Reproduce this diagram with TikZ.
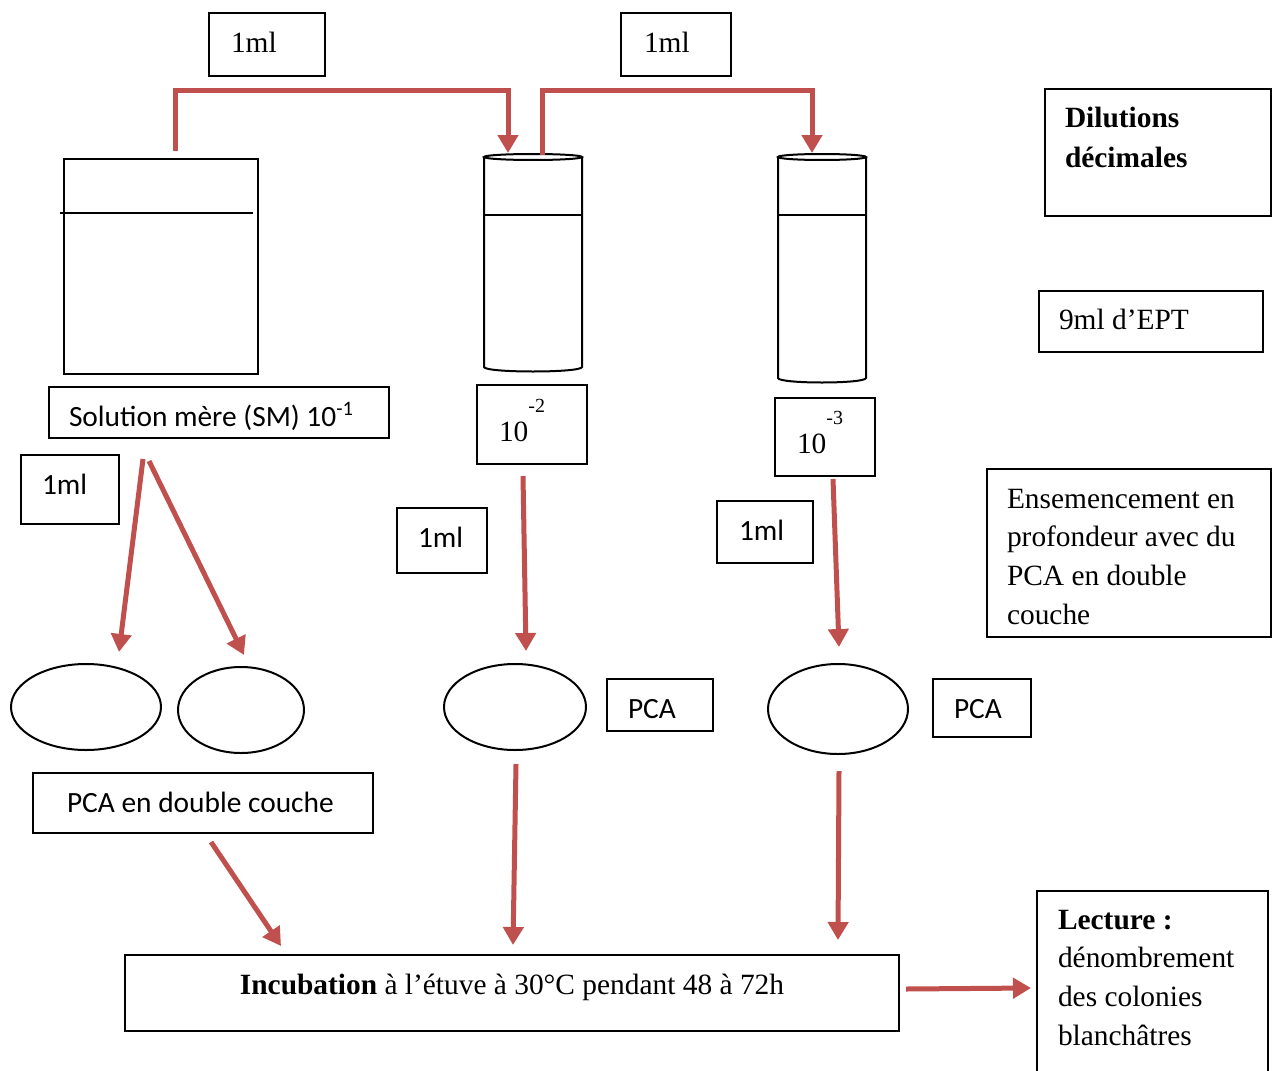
\documentclass[tikz,border=0pt]{standalone}
\usepackage{fontspec}
\setmainfont{Liberation Serif}
\newfontfamily\calibrifont{Carlito}
\usetikzlibrary{arrows.meta,shapes.geometric}
\definecolor{flowred}{RGB}{192,80,77}

\begin{document}
\begin{tikzpicture}[x=0.5pt, y=-0.5pt,
  font=\fontsize{14.7pt}{19.4pt}\selectfont,
  cal/.style={font=\calibrifont\fontsize{14.7pt}{19.4pt}\selectfont},
  box/.style n args={4}{draw, line width=1pt, anchor=north west, align=flush left,
    execute at begin node={\spaceskip=0pt\xspaceskip=0pt\relax},
    inner ysep=0pt, text width=#1, inner xsep=#2, text height=#3, text depth=#4},
  vessel/.style={draw, line width=1pt, anchor=north west, inner sep=0pt},
  dish/.style={ellipse, draw, line width=1pt, inner sep=0pt},
  tube/.style={line width=1pt},
  flow/.style={draw=flowred, line width=2.5pt, -{Triangle[width=10pt,length=9pt]}, fill=none}]
  \useasboundingbox (0,0) rectangle (1278,1070);

  % Volumes transferred
  \node[box={36pt}{11pt}{20pt}{11.5pt}] (ml1) at (208,12) {1ml};
  \node[box={32pt}{11.5pt}{20pt}{11.5pt}] (ml2) at (620,12) {1ml};

  % Legend on the right
  \node[box={93pt}{10pt}{19pt}{44.5pt}] (dil) at (1044,88) {\textbf{Dilutions}\\[0.6pt]\textbf{décimales}};
  \node[box={92pt}{10pt}{19pt}{11.5pt}] (ept) at (1038,290) {9ml d’EPT};
  \node[box={122pt}{10pt}{19.5pt}{64.5pt}] (ens) at (986,468) {Ensemencement en\\profondeur avec du\\PCA en double\\couche};

  % Mother solution and tubes
  \node[vessel, minimum width=97pt, minimum height=107.5pt] (smv) at (63,158) {};
  \draw[tube] (60,213) -- (253,213);

  \coordinate (t2) at (533,157);
  \draw[tube] (484,157) -- (484,367) .. controls (485,373) and (581,373) .. (582,367) -- (582,157);
  \draw[tube] (t2) ellipse [x radius=49, y radius=3];
  \draw[tube] (484,215) -- (582,215);

  \coordinate (t3) at (822,157);
  \draw[tube] (778,157) -- (778,378) .. controls (779,384) and (865,384) .. (866,378) -- (866,157);
  \draw[tube] (t3) ellipse [x radius=44, y radius=3];
  \draw[tube] (778,215) -- (866,215);

  % Labels under the vessels
  \node[box={150pt}{10pt}{19.5pt}{6pt}, cal] (sm) at (48,386) {Solution mère (SM) 10\textsuperscript{-1}};
  \node[box={33pt}{11pt}{28pt}{11.5pt}] (p2) at (476,384) {10\raisebox{14.5pt}{\fontsize{10pt}{10pt}\selectfont -2}};
  \node[box={28pt}{11pt}{27.5pt}{11.5pt}] (p3) at (774,397) {10\raisebox{14.5pt}{\fontsize{10pt}{10pt}\selectfont -3}};

  \node[box={28pt}{10.5pt}{19.5pt}{15pt}, cal] (mlA) at (20,454) {1ml};
  \node[box={24pt}{10.5pt}{19.5pt}{13pt}, cal] (mlB) at (396,507) {1ml};
  \node[box={26pt}{11pt}{19.5pt}{11.5pt}, cal] (mlC) at (716,500) {1ml};

  % Petri dishes
  \node[dish, minimum width=75pt, minimum height=43pt] (dish1) at (86,707) {};
  \node[dish, minimum width=63pt, minimum height=43pt] (dish2) at (241,710) {};
  \node[dish, minimum width=71pt, minimum height=43pt] (dish3) at (515,707) {};
  \node[dish, minimum width=70pt, minimum height=45pt] (dish4) at (838,709) {};

  \node[box={32pt}{10.5pt}{19.5pt}{6.5pt}, cal] (pcaA) at (606,678) {PCA};
  \node[box={28pt}{10.5pt}{19.5pt}{9.5pt}, cal] (pcaB) at (932,678) {PCA};
  \node[box={136pt}{17pt}{19.5pt}{10.5pt}, cal] (pcadc) at (32,772) {PCA en double couche};

  % Incubation and reading
  \node[box={367pt}{10pt}{19.5pt}{18.5pt}, align=flush center] (incub) at (124,954) {\textbf{Incubation} à l’étuve à 30°C pendant 48 à 72h};
  \node[box={94.5pt}{10.5pt}{19pt}{81pt}] (lect) at (1036,890) {\textbf{Lecture :}\\dénombrement\\des colonies\\blanchâtres};

  % Transfers between tubes
  \draw[flow] ([shift={(14,-7)}]smv.north) -- ++(0,-60) -| ([shift={(-25,-4)}]t2);
  \draw[flow] ([shift={(9,-2)}]t2) -- ++(0,-64) -| ([shift={(-10,-4)}]t3);

  % Seeding the dishes
  \draw[flow] ([shift={(-76,20)}]sm.south) -- ([shift={(33,-11)}]dish1.north);
  \draw[flow] ([shift={(-70,22)}]sm.south) -- ([shift={(3,-11)}]dish2.north);
  \draw[flow] ([shift={(-9,11)}]p2.south) -- ([shift={(11,-12)}]dish3.north);
  \draw[flow] ([shift={(8,2)}]p3.south) -- ([shift={(1,-16)}]dish4.north);

  % To incubation
  \draw[flow] ([shift={(8,8)}]pcadc.south) -- ([shift={(-231,-8)}]incub.north);
  \draw[flow] ([shift={(1,13)}]dish3.south) -- ([shift={(1,-9)}]incub.north);
  \draw[flow] ([shift={(1,16)}]dish4.south) -- ([shift={(326,-14)}]incub.north);
  \draw[flow] ([shift={(6,-4)}]incub.east) -- ([shift={(-5,98)}]lect.north west);
\end{tikzpicture}
\end{document}
